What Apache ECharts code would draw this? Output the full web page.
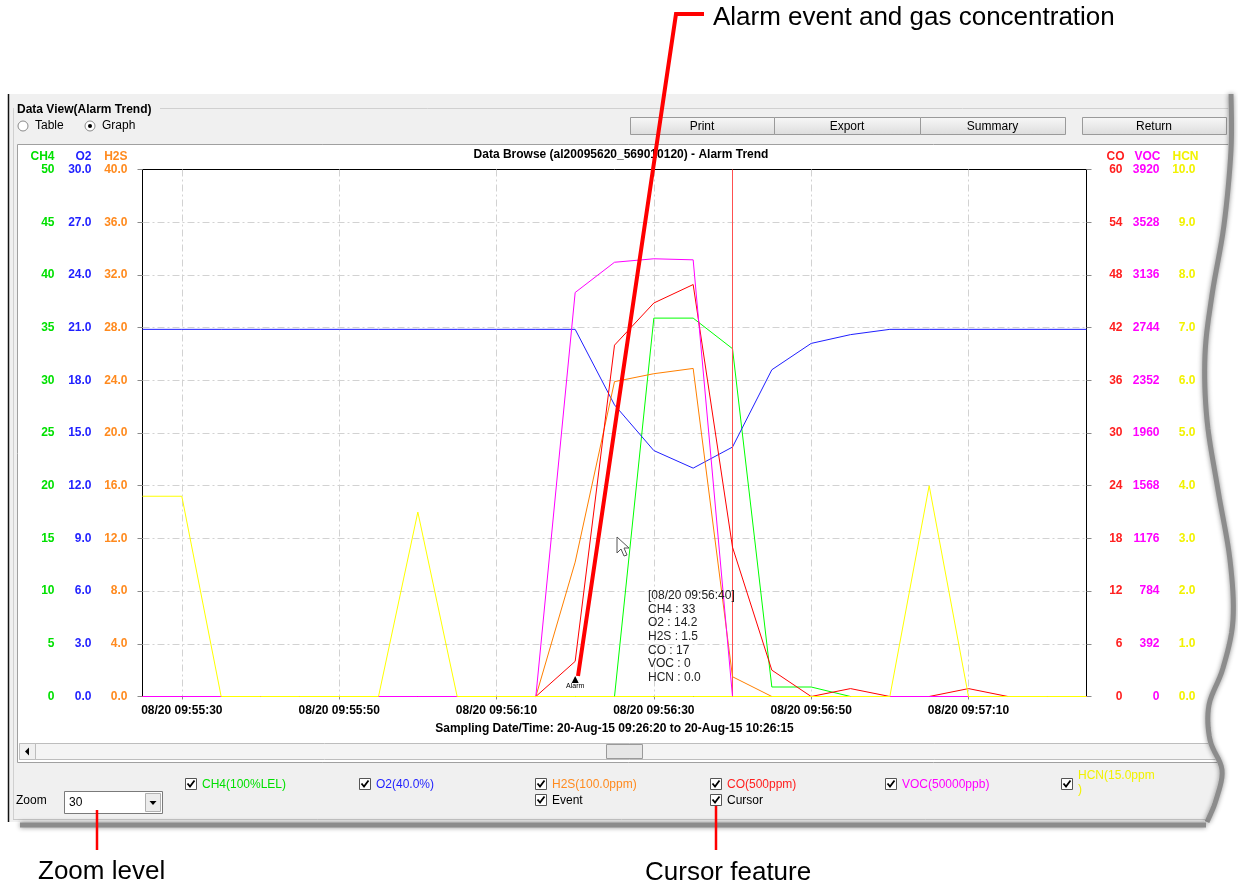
<!DOCTYPE html>
<html><head><meta charset="utf-8">
<script src="https://cdn.jsdelivr.net/npm/echarts@6/dist/echarts.min.js"></script>
<style>html,body{margin:0;padding:0;background:#fff}#c{width:1238px;height:888px}</style>
</head><body><div id="c"></div><script>
// ---------- data ----------
const times = ['08/20 09:55:25','08/20 09:55:30','08/20 09:55:35','08/20 09:55:40','08/20 09:55:45','08/20 09:55:50','08/20 09:55:55','08/20 09:56:00','08/20 09:56:05','08/20 09:56:10','08/20 09:56:15','08/20 09:56:20','08/20 09:56:25','08/20 09:56:30','08/20 09:56:35','08/20 09:56:40','08/20 09:56:45','08/20 09:56:50','08/20 09:56:55','08/20 09:57:00','08/20 09:57:05','08/20 09:57:10','08/20 09:57:15','08/20 09:57:20','08/20 09:57:25'];
const xTickLabels = ['08/20 09:55:30','08/20 09:55:50','08/20 09:56:10','08/20 09:56:30','08/20 09:56:50','08/20 09:57:10'];
const ch4 = [0,0,0,0,0,0,0,0,0,0,0,0,0,35.9,35.9,33,0.9,0.9,0,0,0,0,0,0,0];
const o2  = [20.9,20.9,20.9,20.9,20.9,20.9,20.9,20.9,20.9,20.9,20.9,20.9,16.6,14.0,13.0,14.2,18.6,20.1,20.6,20.9,20.9,20.9,20.9,20.9,20.9];
const h2s = [0,0,0,0,0,0,0,0,0,0,0,10.2,23.9,24.5,24.9,1.5,0,0,0,0,0,0,0,0,0];
const co  = [0,0,0,0,0,0,0,0,0,0,0,4,40,44.8,46.9,17,3.0,0,0.9,0,0,0.9,0,0,0];
const voc = [0,0,0,0,0,0,0,0,0,0,0,3005,3230,3256,3248,0,0,0,0,0,0,0,0,0,0];
const hcn = [3.8,3.8,0,0,0,0,0,3.5,0,0,0,0,0,0,0,0,0,0,0,0,4.0,0,0,0,0];
const alarmTime = '08/20 09:56:20';
const cursorTime = '08/20 09:56:40';
const axisMax = {CH4:50, O2:30, H2S:40, CO:60, VOC:3920, HCN:10};
const legendLabels = ['CH4(100%LEL)','O2(40.0%)','H2S(100.0ppm)','CO(500ppm)','VOC(50000ppb)'];

// ---------- styling ----------
const FF = 'Arial, "Liberation Sans", sans-serif';
const GRID = {left:142.5, top:169.5, width:944, height:527};
const splitStyle = {color:'#d2d2d2', width:1, type:[7,3,2,3]};
const defs = [
  {name:'CH4', data:ch4, dec:0, line:'#00ff00', text:'#00e000', pos:'left', margin:88, first:true},
  {name:'O2',  data:o2,  dec:1, line:'#1f1fff', text:'#1f1fff', pos:'left', margin:51},
  {name:'H2S', data:h2s, dec:1, line:'#ff8000', text:'#ff8a1e', pos:'left', margin:15},
  {name:'CO',  data:co,  dec:0, line:'#ff0000', text:'#ff2020', pos:'right', margin:36, nameLeft:20, first:true},
  {name:'VOC', data:voc, dec:0, line:'#ff00ff', text:'#ff00ff', pos:'right', margin:73, nameLeft:48},
  {name:'HCN', data:hcn, dec:1, line:'#ffff00', text:'#f2f200', pos:'right', margin:109, nameLeft:86}
];

const yAxes = defs.map(d => {
  const max = axisMax[d.name];
  const left = d.pos === 'left';
  return {
    type:'value', position:d.pos, min:0, max:max, interval:max/10,
    name:d.name, nameLocation:'end', nameGap:7, nameMoveOverlap:false,
    nameTextStyle: left
      ? {color:d.text, fontWeight:'bold', fontSize:12, fontFamily:FF, align:'right', verticalAlign:'bottom', padding:[0,d.margin,0,0]}
      : {color:d.text, fontWeight:'bold', fontSize:12, fontFamily:FF, align:'left', verticalAlign:'bottom', padding:[0,0,0,d.nameLeft]},
    axisLine:{show:false},
    axisTick:{show:!!d.first, length:5, lineStyle:{color:'#8a8a8a'}},
    axisLabel:{color:d.text, fontWeight:'bold', fontSize:12, fontFamily:FF, margin:d.margin,
      align:'right', hideOverlap:false,
      formatter: v => Number(v).toFixed(d.dec)},
    splitLine:{show: d.name === 'CH4', showMinLine:false, showMaxLine:false, lineStyle:splitStyle}
  };
});

const tickInt = (i, v) => xTickLabels.indexOf(v) >= 0;

const series = defs.map((d, k) => ({
  name:d.name, type:'line', yAxisIndex:k, data:d.data, showSymbol:false, symbol:'none', clip:false,
  lineStyle:{color:d.line, width:1}, itemStyle:{color:d.line}, z:3+k, animation:false, silent:true,
  emphasis:{disabled:true}
}));
// alarm event marker on CO series
series[3].markPoint = {
  silent:true, animation:false,
  data:[{coord:[alarmTime, 0], symbol:'triangle', symbolSize:[7,7], symbolOffset:[0,-17],
    itemStyle:{color:'#000'},
    label:{show:true, position:'bottom', distance:0, formatter:'Alarm', fontSize:7, color:'#000', fontFamily:FF}}]
};
// cursor line
series[5].markLine = {
  silent:true, animation:false, symbol:['none','none'],
  lineStyle:{color:'#ff5050', type:'solid', width:1, opacity:1},
  emphasis:{disabled:true},
  label:{show:false},
  data:[{xAxis:cursorTime, lineStyle:{color:'#ff5050', type:'solid', width:1, opacity:1}}]
};

// ---------- decoration (UI window) ----------
const ci = times.indexOf(cursorTime);
const tipText = ['[' + cursorTime + ']',
  'CH4 : ' + ch4[ci].toFixed(0), 'O2 : ' + o2[ci].toFixed(1), 'H2S : ' + h2s[ci].toFixed(1),
  'CO : ' + co[ci].toFixed(0), 'VOC : ' + voc[ci].toFixed(0), 'HCN : ' + hcn[ci].toFixed(1)].join('\n');

function catmull(pts, n) {
  const out = [];
  for (let i = 0; i < pts.length - 1; i++) {
    const p0 = pts[Math.max(0,i-1)], p1 = pts[i], p2 = pts[i+1], p3 = pts[Math.min(pts.length-1,i+2)];
    for (let t = 0; t < n; t++) {
      const s = t / n, s2 = s*s, s3 = s2*s;
      const f = (a,b,c,d) => 0.5*((2*b)+(-a+c)*s+(2*a-5*b+4*c-d)*s2+(-a+3*b-3*c+d)*s3);
      out.push([f(p0[0],p1[0],p2[0],p3[0]), f(p0[1],p1[1],p2[1],p3[1])]);
    }
  }
  out.push(pts[pts.length-1]);
  return out;
}
const waveCtrl = [[1228,94],[1228,150],[1221,225],[1209,295],[1202,355],[1204,420],[1215,490],[1227,560],[1230,620],[1220,668],[1206,705],[1207,740],[1219,770],[1213,800],[1204,822]];
const wave = catmull(waveCtrl, 8);
const coverPts = wave.concat([[1238,822],[1238,94]]);

const G = [];
const txt = (x, y, text, font, fill, align, va, z) => G.push({type:'text', x, y, z: z||50, silent:true,
  style:{text, font, fill: fill||'#000', align: align||'left', verticalAlign: va||'middle'}});
const ln = (x1,y1,x2,y2,stroke,w,z) => G.push({type:'line', z: z||50, silent:true, shape:{x1,y1,x2,y2}, style:{stroke, lineWidth:w||1}});

// window background
G.push({type:'rect', z:-100, silent:true, shape:{x:8,y:94,width:1235,height:728}, style:{fill:'#f0f0f0'}});
ln(8.5,94,8.5,822,'#111',1.5,-90);
// group box
ln(160,108.5,1230,108.5,'#d0d0d0',1,-90);
ln(13.5,108,13.5,820,'#d0d0d0',1,-90);
ln(13,819.5,1230,819.5,'#c8c8c8',1,-90);
txt(17,110,'Data View(Alarm Trend)','bold 12px '+FF,'#000','left','middle',-80);
// radios
G.push({type:'circle', z:-80, silent:true, shape:{cx:23,cy:126,r:5}, style:{fill:'#fff', stroke:'#8a8a8a'}});
G.push({type:'circle', z:-80, silent:true, shape:{cx:90,cy:126,r:5}, style:{fill:'#fff', stroke:'#8a8a8a'}});
G.push({type:'circle', z:-79, silent:true, shape:{cx:90,cy:126,r:2}, style:{fill:'#000'}});
txt(35,126,'Table','12px '+FF,'#000','left','middle',-80);
txt(102,126,'Graph','12px '+FF,'#000','left','middle',-80);
// buttons
const btnGrad = new echarts.graphic.LinearGradient(0,0,0,1,[{offset:0,color:'#f8f8f8'},{offset:1,color:'#dcdcdc'}]);
[['Print',630,144],['Export',774,146],['Summary',920,145],['Return',1082,144]].forEach(b => {
  G.push({type:'rect', z:-80, silent:true, shape:{x:b[1]+0.5,y:117.5,width:b[2],height:17}, style:{fill:btnGrad, stroke:'#9a9a9a'}});
  txt(b[1]+b[2]/2, 126.5, b[0], '12px '+FF, '#000', 'center', 'middle', -79);
});
// chart panel
G.push({type:'rect', z:-90, silent:true, shape:{x:17.5,y:144.5,width:1225,height:618}, style:{fill:'#fff', stroke:'#a0a0a0'}});
// title
txt(621,155,'Data Browse (al20095620_569010120) - Alarm Trend','bold 12px '+FF,'#000','center','middle',-70);
// scrollbar
G.push({type:'rect', z:-80, silent:true, shape:{x:19.5,y:743.5,width:1220,height:16}, style:{fill:'#f4f4f4', stroke:'#bdbdbd'}});
G.push({type:'rect', z:-79, silent:true, shape:{x:19.5,y:743.5,width:16,height:16}, style:{fill:'#f0f0f0', stroke:'#bdbdbd'}});
G.push({type:'polygon', z:-78, silent:true, shape:{points:[[25,751.5],[29,747.5],[29,755.5]]}, style:{fill:'#000'}});
G.push({type:'rect', z:-79, silent:true, shape:{x:606.5,y:744.5,width:36,height:14}, style:{fill:'#e6e6e6', stroke:'#9a9a9a'}});
// checkboxes
const check = (x, y, label, color) => {
  G.push({type:'rect', z:40, silent:true, shape:{x:x+0.5,y:y+0.5,width:11,height:11}, style:{fill:'#fff', stroke:'#555'}});
  G.push({type:'polyline', z:41, silent:true, shape:{points:[[x+2.5,y+5.5],[x+5,y+8.5],[x+9.5,y+2.5]]}, style:{stroke:'#000', lineWidth:1.8, fill:null}});
  if (label) txt(x+17, y+6.5, label, '12px '+FF, color, 'left', 'middle', 41);
};
const checkX = [185, 359, 535, 710, 885];
legendLabels.forEach((l, k) => check(checkX[k], 778, l, defs[k].text));
check(1061, 778, '', '#000');
txt(1078, 776, 'HCN(15.0ppm', '12px '+FF, '#f2f200', 'left', 'middle', 41);
txt(1078, 790, ')', '12px '+FF, '#f2f200', 'left', 'middle', 41);
check(535, 794, 'Event', '#000');
check(710, 794, 'Cursor', '#000');
// zoom combo
txt(16,801,'Zoom','12px '+FF,'#000','left','middle',41);
G.push({type:'rect', z:40, silent:true, shape:{x:64.5,y:791.5,width:98,height:22}, style:{fill:'#fff', stroke:'#7a7a7a'}});
G.push({type:'rect', z:41, silent:true, shape:{x:145.5,y:793.5,width:15,height:18}, style:{fill:'#ececec', stroke:'#b0b0b0'}});
G.push({type:'polygon', z:42, silent:true, shape:{points:[[149.5,801],[156.5,801],[153,805]]}, style:{fill:'#000'}});
txt(69,803,'30','12px '+FF,'#000','left','middle',41);

// torn right edge + shadows
G.push({type:'polygon', z:90, silent:true, shape:{points:coverPts}, style:{fill:'#fff'}});
G.push({type:'polyline', z:91, silent:true, shape:{points:wave.map(p => [p[0]+3, p[1]])},
  style:{stroke:'#8c8c8c', lineWidth:5, fill:null, shadowBlur:5, shadowColor:'rgba(0,0,0,0.45)'}});
G.push({type:'line', z:91, silent:true, shape:{x1:20,y1:825,x2:1206,y2:825},
  style:{stroke:'#8c8c8c', lineWidth:5, shadowBlur:5, shadowColor:'rgba(0,0,0,0.45)'}});

// cursor readout text & mouse pointer
G.push({type:'text', x:648, y:589, z:60, silent:true,
  style:{text:tipText, font:'12px '+FF, fill:'#222', lineHeight:13.6, align:'left', verticalAlign:'top'}});
G.push({type:'polygon', z:60, silent:true,
  shape:{points:[[617,537],[617,553],[621,549],[624,556],[627,555],[624,548],[629,548]]},
  style:{fill:'#fff', stroke:'#555', lineWidth:1}});

// callout annotations
G.push({type:'polyline', z:95, silent:true, shape:{points:[[704,14],[676,14],[578,676]]},
  style:{stroke:'#ff0000', lineWidth:4, fill:null, lineJoin:'miter'}});
txt(713,18,'Alarm event and gas concentration','26px '+FF,'#000','left','middle',95);
ln(97,810,97,850,'#ff0000',2.5,95);
txt(38,872,'Zoom level','26px '+FF,'#000','left','middle',95);
ln(716,806,716,850,'#ff0000',2.5,95);
txt(645,873,'Cursor feature','26px '+FF,'#000','left','middle',95);

const chart = echarts.init(document.getElementById('c'), null, {renderer:'canvas'});
chart.setOption({
  backgroundColor:'#fff',
  animation:false,
  grid:Object.assign({show:true, borderColor:'#000', borderWidth:1, backgroundColor:'#fff', containLabel:false, outerBoundsMode:'none', z:0}, GRID),
  xAxis:{
    type:'category', data:times, boundaryGap:false,
    axisLine:{show:false},
    axisTick:{show:true, interval:tickInt, length:3, lineStyle:{color:'#8a8a8a'}},
    axisLabel:{interval:tickInt, color:'#000', fontWeight:'bold', fontSize:12, fontFamily:FF, margin:8, hideOverlap:false},
    splitLine:{show:true, interval:tickInt, lineStyle:splitStyle},
    name:'Sampling Date/Time: 20-Aug-15 09:26:20 to 20-Aug-15 10:26:15',
    nameLocation:'middle', nameGap:26, nameMoveOverlap:false,
    nameTextStyle:{color:'#000', fontWeight:'bold', fontSize:12, fontFamily:FF, verticalAlign:'top'}
  },
  yAxis:yAxes,
  series:series,
  graphic:{elements:G}
});
</script></body></html>
